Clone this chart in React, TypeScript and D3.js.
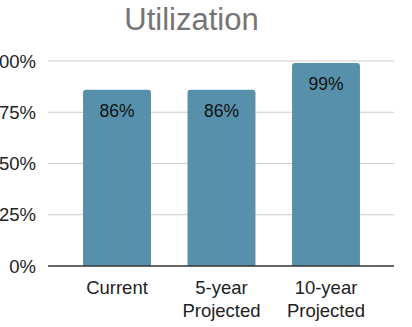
import React from "react";
import * as d3 from "d3";

const categories: string[][] = [["Current"], ["5-year", "Projected"], ["10-year", "Projected"]];
const values: number[] = [0.86, 0.86, 0.99];
const yTicks: number[] = [0, 0.25, 0.5, 0.75, 1.0];
const title = "Utilization";

const W = 412;
const H = 327;
const FONT = "'Liberation Sans', Arial, sans-serif";

export default function App() {
  const y = d3.scaleLinear().domain([0, 1]).range([266, 61]);
  const x = d3
    .scaleBand<number>()
    .domain(values.map((_, i) => i))
    .range([64.75, 378.25])
    .paddingInner(0.35)
    .paddingOuter(0.175);
  const fmt = d3.format(".0%");
  const bw = x.bandwidth();
  const r = 3;

  const barPath = (i: number) => {
    const x0 = x(i)!;
    const x1 = x0 + bw;
    const top = y(values[i]);
    const bot = y(0);
    const p = d3.path();
    p.moveTo(x0, bot);
    p.lineTo(x0, top + r);
    p.quadraticCurveTo(x0, top, x0 + r, top);
    p.lineTo(x1 - r, top);
    p.quadraticCurveTo(x1, top, x1, top + r);
    p.lineTo(x1, bot);
    p.closePath();
    return p.toString();
  };

  return (
    <svg
      width={W}
      height={H}
      style={{ position: "fixed", left: 0, top: 0, background: "#fff" }}
      fontFamily={FONT}
    >
      <text x={191.5} y={30} textAnchor="middle" fontSize={31} fill="#757575">
        {title}
      </text>
      {yTicks.map((t) =>
        t > 0 ? (
          <line key={"g" + t} x1={48} x2={394} y1={y(t)} y2={y(t)} stroke="#cccccc" strokeWidth={1} />
        ) : null
      )}
      {yTicks.map((t) => (
        <text key={"l" + t} x={36} y={y(t)} dy="0.36em" textAnchor="end" fontSize={18.5} fill="#222">
          {fmt(t)}
        </text>
      ))}
      {values.map((v, i) => (
        <g key={i}>
          <path d={barPath(i)} fill="#5790aa" />
          <text
            x={x(i)! + bw / 2}
            y={y(v) + 27}
            textAnchor="middle"
            fontSize={17.5}
            fill="#111"
          >
            {fmt(v)}
          </text>
          {categories[i].map((line, j) => (
            <text
              key={j}
              x={x(i)! + bw / 2}
              y={294 + j * 22.5}
              textAnchor="middle"
              fontSize={18.5}
              fill="#222"
            >
              {line}
            </text>
          ))}
        </g>
      ))}
      <line x1={48} x2={394} y1={y(0)} y2={y(0)} stroke="#333" strokeWidth={1.6} />
    </svg>
  );
}
